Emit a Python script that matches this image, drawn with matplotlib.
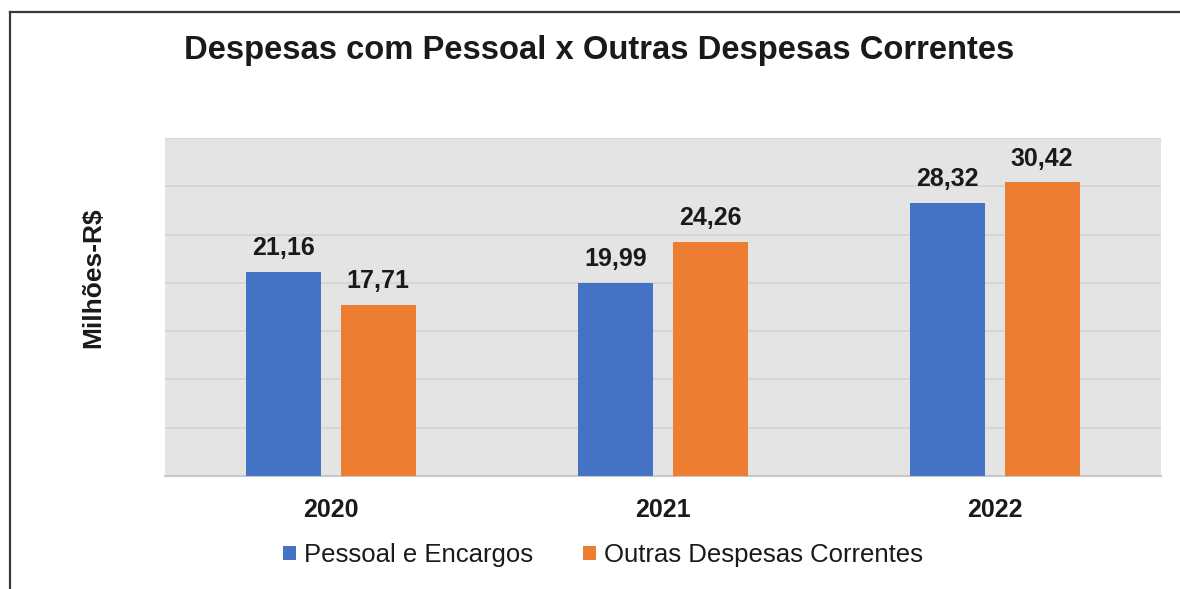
import matplotlib
matplotlib.use("Agg")
import matplotlib.pyplot as plt
from matplotlib.lines import Line2D
import numpy as np

anos = ["2020", "2021", "2022"]
pessoal = [21.16, 19.99, 28.32]
outras = [17.71, 24.26, 30.42]
series_nomes = ["Pessoal e Encargos", "Outras Despesas Correntes"]

AZUL = "#4472C4"
LARANJA = "#ED7D31"
FUNDO = "#E4E4E4"
GRADE = "#D2D2D2"
TEXTO = "#1A1A1A"

plt.rcParams["font.family"] = ["Liberation Sans", "DejaVu Sans"]

W, H = 1180, 589
fig = plt.figure(figsize=(W / 100, H / 100), dpi=100)
fig.patch.set_facecolor("white")

ax = fig.add_axes([165 / W, (H - 476) / H, (1161 - 165) / W, (476 - 138) / H])
ax.set_facecolor(FUNDO)

x = np.arange(len(anos))
larg = 0.226
desloc = 0.142
b1 = ax.bar(x - desloc, pessoal, larg, color=AZUL, zorder=3, label=series_nomes[0])
b2 = ax.bar(x + desloc, outras, larg, color=LARANJA, zorder=3, label=series_nomes[1])

for barras, vals in ((b1, pessoal), (b2, outras)):
    for b, v in zip(barras, vals):
        ax.text(b.get_x() + b.get_width() / 2, v + 1.2, f"{v:.2f}".replace(".", ","),
                ha="center", va="bottom", fontsize=18, fontweight="bold", color=TEXTO)

ax.set_xlim(-0.5, len(anos) - 0.5)
ax.set_ylim(0, 35)
ax.set_yticks(np.arange(0, 36, 5))
ax.yaxis.grid(True, color=GRADE, linewidth=1.2, zorder=0)
ax.tick_params(axis="y", left=False, labelleft=False)
ax.tick_params(axis="x", bottom=False, pad=12)
ax.set_xticks(x)
ax.set_xticklabels(anos, fontsize=18, fontweight="bold", color=TEXTO)
for s in ("top", "right", "left"):
    ax.spines[s].set_visible(False)
ax.spines["bottom"].set_color("#C8C8C8")
ax.spines["bottom"].set_linewidth(1.5)

fig.text(93 / W, 1 - 278 / H, "Milhões-R$", rotation=90, ha="center", va="center",
         fontsize=19, fontweight="bold", color=TEXTO)

fig.text(599 / W, 1 - 50 / H, "Despesas com Pessoal x Outras Despesas Correntes",
         ha="center", va="center", fontsize=23.6, fontweight="bold", color=TEXTO)

fig.legend(handles=[b1, b2], loc="center", bbox_to_anchor=(603 / W, 1 - 555 / H),
           ncol=2, frameon=False, fontsize=18.5, handlelength=0.5, handleheight=0.5,
           handletextpad=0.3, columnspacing=1.95, labelcolor=TEXTO)

# moldura (só esquerda e topo visíveis)
fig.add_artist(Line2D([9.5 / W, 9.5 / W], [0, 1 - 12 / H], transform=fig.transFigure,
                      color="#3A3A3A", linewidth=1.6))
fig.add_artist(Line2D([9.5 / W, 1], [1 - 12 / H, 1 - 12 / H], transform=fig.transFigure,
                      color="#3A3A3A", linewidth=1.6))

fig.savefig("out.png", dpi=100, facecolor="white")
